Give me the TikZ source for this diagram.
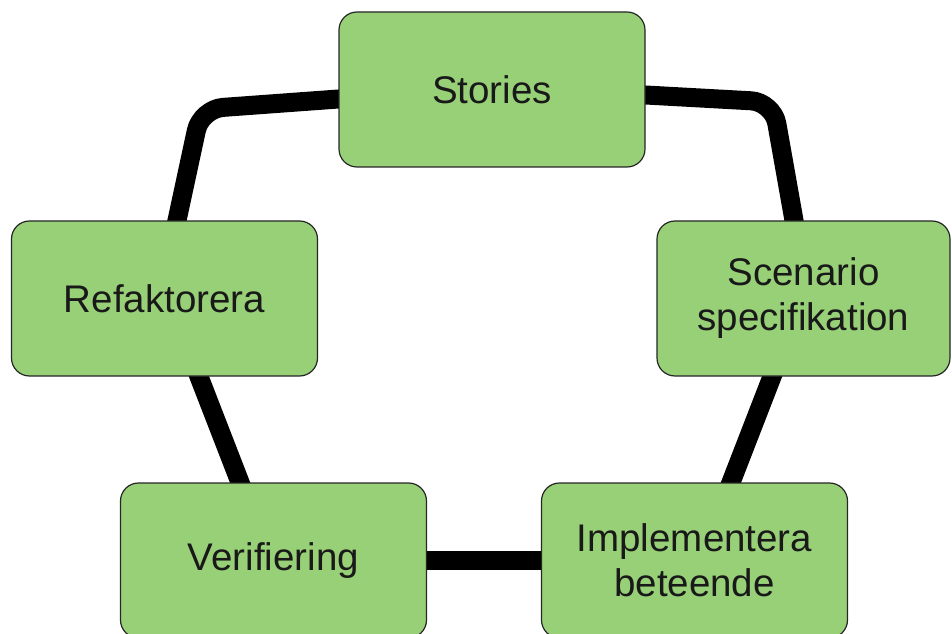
\documentclass[tikz,border=0pt]{standalone}
\usepackage{fontspec}
\setmainfont{Liberation Sans}
\usetikzlibrary{calc}
\definecolor{boxgreen}{RGB}{151,208,119}
\pgfdeclarelayer{background}
\pgfsetlayers{background,main}
\tikzset{
    step box/.style = {rectangle,
                    rounded corners=18bp,
                    fill=boxgreen,
                    draw=black!85,
                    line width=1.2bp,
                    text=black!90,
                    align=center,
                    inner sep=0pt,
                    minimum width=306bp,
                    minimum height=155bp,
                    font=\fontsize{38.5bp}{45bp}\selectfont},
    link/.style =   {draw=black,
                    line width=19bp,
                    rounded corners=22bp,
                    shorten >=-8bp,
                    shorten <=-8bp}}

\begin{document}
\begin{tikzpicture}[x=1bp,y=-1bp]
                \useasboundingbox (0,0) rectangle (952,634);
                \node[step box]     (stories) at (492,89.5)                     {Stories};
                \node[step box]     (scen)    at (803.5,298.5) [minimum width=293bp] {Scenario\\specifikation};
                \node[step box]     (impl)    at (694.5,560.5)                  {Implementera\\beteende};
                \node[step box]     (verif)   at (273.5,560.5)                  {Verifiering};
                \node[step box]     (refak)   at (164.5,298.5)                  {Refaktorera};
                \coordinate         (cl)      at (201,109);
                \coordinate         (cr)      at (773,102);
                \begin{pgfonlayer}{background}
                \draw [link]    ($(stories.west)+(0,9.5)$) -- (cl) -- ($(refak.north)+(12.5,0)$);
                \draw [link]    ($(stories.east)+(0,5.5)$) -- (cr) -- ($(scen.north)+(-9.5,0)$);
                \draw [link]    ($(scen.south)+(-31.5,0)$) -- ($(impl.north)+(36.5,0)$);
                \draw [link]    ($(refak.south)+(34.5,0)$) -- ($(verif.north)+(-33.5,0)$);
                \path [link]    (verif) edge [] (impl);
                \end{pgfonlayer}
        \end{tikzpicture}
\end{document}
